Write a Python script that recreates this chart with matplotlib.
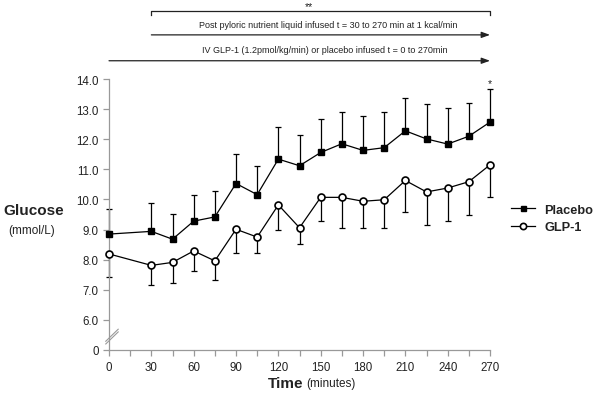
import matplotlib
matplotlib.use("Agg")
import matplotlib.pyplot as plt
import numpy as np

plt.rcParams['font.family'] = ['Liberation Sans', 'DejaVu Sans']

# data
time_min = [0, 30, 45, 60, 75, 90, 105, 120, 135, 150, 165, 180, 195, 210, 225, 240, 255, 270]
placebo = [8.85, 8.94, 8.68, 9.28, 9.42, 10.53, 10.16, 11.34, 11.12, 11.56, 11.85, 11.63, 11.72,
           12.28, 12.01, 11.84, 12.10, 12.57]
placebo_top = [9.67, 9.87, 9.51, 10.14, 10.27, 11.52, 11.11, 12.40, 12.14, 12.68, 12.91, 12.76,
               12.89, 13.36, 13.16, 13.03, 13.20, 13.67]
glp1 = [8.19, 7.81, 7.91, 8.29, 7.96, 9.01, 8.75, 9.82, 9.06, 10.07, 10.07, 9.94, 9.99,
        10.63, 10.25, 10.38, 10.59, 11.15]
glp1_bottom = [7.42, 7.15, 7.21, 7.62, 7.33, 8.22, 8.22, 8.98, 8.52, 9.27, 9.05, 9.05, 9.05,
               9.60, 9.15, 9.29, 9.49, 10.09]

y_ticks = [5, 6, 7, 8, 9, 10, 11, 12, 13, 14]
y_labels = ['0', '6.0', '7.0', '8.0', '9.0', '10.0', '11.0', '12.0', '13.0', '14.0']
x_major = [0, 30, 60, 90, 120, 150, 180, 210, 240, 270]

axis_grey = '#999999'
text_col = '#222222'

fig = plt.figure(figsize=(6, 4.02), dpi=100)
ax = fig.add_axes([0.1817, 0.1269, 0.635, 0.674])

t = np.array(time_min)
p = np.array(placebo)
g = np.array(glp1)

ax.errorbar(t, p, yerr=[np.zeros_like(p), np.array(placebo_top) - p], fmt='none',
            ecolor='black', elinewidth=0.9, capsize=2.3, capthick=0.9, clip_on=False, zorder=2)
ax.errorbar(t, g, yerr=[g - np.array(glp1_bottom), np.zeros_like(g)], fmt='none',
            ecolor='black', elinewidth=0.9, capsize=2.3, capthick=0.9, clip_on=False, zorder=2)
ax.plot(t, p, color='black', lw=0.9, marker='s', ms=4.0, mfc='black', mec='black',
        clip_on=False, zorder=3, label='Placebo')
ax.plot(t, g, color='black', lw=0.9, marker='o', ms=5.0, mfc='white', mec='black', mew=1.2,
        clip_on=False, zorder=3, label='GLP-1')

ax.set_xlim(0, 270)
ax.set_ylim(5, 14)
ax.set_xticks(x_major)
ax.set_xticks(np.arange(15, 270, 30), minor=True)
ax.set_yticks(y_ticks)
ax.set_yticklabels(y_labels)

for side in ['top', 'right']:
    ax.spines[side].set_visible(False)
for side in ['left', 'bottom']:
    ax.spines[side].set_color(axis_grey)
    ax.spines[side].set_linewidth(0.9)
ax.tick_params(which='both', direction='out', color=axis_grey, width=0.9, labelsize=8.3,
               labelcolor=text_col, length=4)
ax.tick_params(axis='x', pad=4)

# axis break marks
for off in [0, 0.09]:
    ax.plot([-2.3, 6.5], [5.2 + off, 5.6 + off], color=axis_grey, lw=0.8, clip_on=False)

# axis labels
fig.text(0.005, 0.475, 'Glucose', fontsize=11, fontweight='bold', color=text_col, ha='left', va='center')
fig.text(0.013, 0.425, '(mmol/L)', fontsize=8.5, color=text_col, ha='left', va='center')
fig.text(0.505, 0.045, 'Time', fontsize=11, fontweight='bold', color=text_col, ha='right', va='center')
fig.text(0.51, 0.045, '(minutes)', fontsize=8.5, color=text_col, ha='left', va='center')

# annotations above the plot
tr = ax.get_xaxis_transform()
arrow_kw = dict(arrowstyle='-|>,head_length=0.5,head_width=0.18', color='#222222', lw=0.9,
                shrinkA=0, shrinkB=0)
ax.annotate('', xy=(270, 1.0675), xytext=(0, 1.0675), xycoords=tr, textcoords=tr,
            arrowprops=arrow_kw, annotation_clip=False)
ax.annotate('', xy=(270, 1.163), xytext=(30, 1.163), xycoords=tr, textcoords=tr,
            arrowprops=arrow_kw, annotation_clip=False)
ax.plot([30, 30, 270, 270], [1.236, 1.252, 1.252, 1.236], color='#222222', lw=0.9,
        transform=tr, clip_on=False)
ax.text(152.7, 1.108, 'IV GLP-1 (1.2pmol/kg/min) or placebo infused t = 0 to 270min',
        transform=tr, ha='center', va='center', fontsize=6.45, color=text_col)
ax.text(155.2, 1.200, 'Post pyloric nutrient liquid infused t = 30 to 270 min at 1 kcal/min',
        transform=tr, ha='center', va='center', fontsize=6.5, color=text_col)
ax.text(142, 1.27, '**', transform=tr, ha='center', va='center', fontsize=7.5, color=text_col)
ax.text(270, 13.87, '*', ha='center', va='center', fontsize=7.5, color=text_col)

leg = ax.legend(loc='center left', bbox_to_anchor=(1.025, 0.485), frameon=False,
                handlelength=1.9, handletextpad=0.7, markerscale=0.9,
                prop={'weight': 'bold', 'size': 9.2}, labelspacing=0.45)
for txt in leg.get_texts():
    txt.set_color(text_col)

fig.savefig('out.png', dpi=100)
